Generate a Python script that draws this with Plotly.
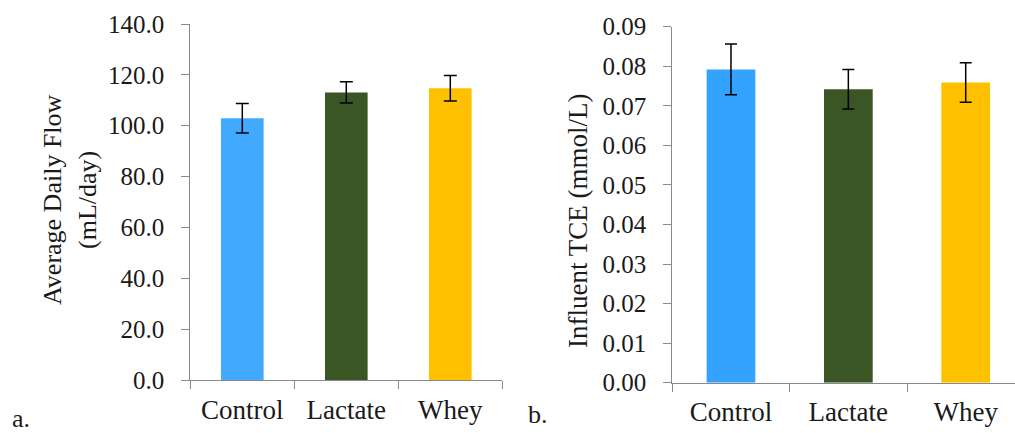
import plotly.graph_objects as go

# Treatment groups
categories = ["Control", "Lactate", "Whey"]
bar_colors_a = ["#41AAFF", "#3A5624", "#FFC000"]
bar_colors_b = ["#33A3FF", "#3A5624", "#FFC000"]

# Panel a: average daily flow (mL/day) with standard deviation
flow_mean = [102.9, 113.1, 114.7]
flow_err = [5.8, 4.2, 5.0]

# Panel b: influent TCE (mmol/L) with standard deviation
tce_mean = [0.0792, 0.0742, 0.0759]
tce_err = [0.0064, 0.0050, 0.0050]

W, H = 1015, 433
FONT = "Liberation Serif"
AXIS_COLOR = "#898989"


def px_x(v):
    return v / W


def px_y(v):
    return 1 - v / H


fig = go.Figure()

fig.add_trace(go.Bar(
    x=categories, y=flow_mean, width=0.41,
    marker=dict(color=bar_colors_a, line=dict(width=0)),
    error_y=dict(type="data", array=flow_err, color="black", thickness=1.5, width=6.5),
    xaxis="x", yaxis="y", showlegend=False,
))

fig.add_trace(go.Bar(
    x=categories, y=tce_mean, width=0.415,
    marker=dict(color=bar_colors_b, line=dict(width=0)),
    error_y=dict(type="data", array=tce_err, color="black", thickness=1.5, width=6),
    xaxis="x2", yaxis="y2", showlegend=False,
))

y_tick_font = dict(family=FONT, size=25, color="#1a1a1a")
x_tick_font = dict(family=FONT, size=27, color="#1a1a1a")

common_x = dict(
    type="category", showline=True, linecolor=AXIS_COLOR, linewidth=1.2,
    ticks="outside", tickson="boundaries", ticklen=8, tickcolor=AXIS_COLOR, tickwidth=1.2,
    showgrid=False, zeroline=False, tickfont=x_tick_font, ticklabelstandoff=5,
    automargin=False,
)
common_y = dict(
    showline=True, linecolor=AXIS_COLOR, linewidth=1.2,
    ticks="outside", ticklen=8, tickcolor=AXIS_COLOR, tickwidth=1.2,
    showgrid=False, zeroline=False, tickfont=y_tick_font,
    automargin=False,
)

fig.update_layout(
    width=W, height=H,
    margin=dict(l=0, r=0, t=0, b=0),
    paper_bgcolor="white", plot_bgcolor="white",
    bargap=0.59,
    xaxis=dict(domain=[px_x(190.3), px_x(502.3)], range=[-0.5, 2.5],
               anchor="y", **common_x),
    yaxis=dict(domain=[px_y(380), px_y(24)], range=[0, 140], dtick=20,
               tickformat=".1f", anchor="x", ticklabelstandoff=12, **common_y),
    xaxis2=dict(domain=[px_x(672.3), 1.0], range=[-0.5, 2.42],
                anchor="y2", **common_x),
    yaxis2=dict(domain=[px_y(382.7), px_y(26.7)], range=[0, 0.09], dtick=0.01,
                tickformat=".2f", anchor="x2", ticklabelstandoff=12, **common_y),
)

title_font = dict(family=FONT, size=26, color="#1a1a1a")
annotations = [
    dict(text="Average Daily Flow", x=px_x(53), y=px_y(200), textangle=-90, size=26),
    dict(text="(mL/day)", x=px_x(88), y=px_y(200), textangle=-90, size=26),
    dict(text="Influent TCE (mmol/L)", x=px_x(578), y=px_y(221), textangle=-90, size=27),
    dict(text="a.", x=px_x(21), y=px_y(418), textangle=0, size=26),
    dict(text="b.", x=px_x(538), y=px_y(414), textangle=0, size=26),
]
for a in annotations:
    size = a.pop("size")
    fig.add_annotation(xref="paper", yref="paper", showarrow=False,
                       xanchor="center", yanchor="middle",
                       font=dict(family=FONT, size=size, color="#1a1a1a"), **a)

fig.write_html("out.html")
